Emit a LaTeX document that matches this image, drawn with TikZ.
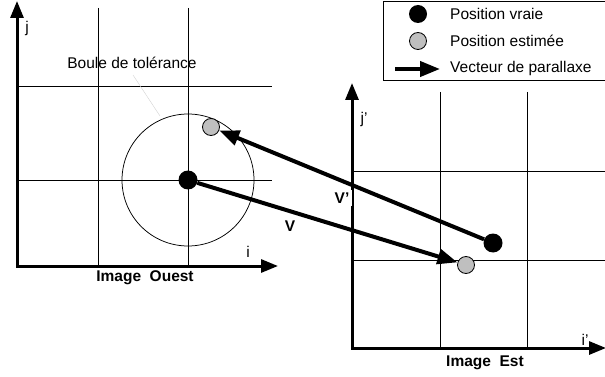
\documentclass[tikz,border=0pt]{standalone}
\usepackage{fontspec}
\setmainfont{Liberation Sans}
\usetikzlibrary{arrows.meta}

\begin{document}
\begin{tikzpicture}[x=1pt,y=-1pt]
\tikzstyle{vrai} = [shape = circle,fill = black,minimum size = 19pt,inner sep=0pt]
\tikzstyle{estime} = [shape = circle,draw = black,fill = gray!50,line width=0.8pt,minimum size = 17pt,inner sep=0pt]
\tikzstyle{axe} = [line width=3pt,{Triangle[length=17pt,width=13pt]}-{Triangle[length=17pt,width=13pt]}]
\tikzstyle{grille} = [line width=1pt]
\tikzstyle{vecteur} = [line width=4pt,-{Triangle[length=20pt,width=15pt]}]
\tikzstyle{texte} = [font=\fontsize{15.5}{18}\selectfont,inner sep=1pt]
\tikzstyle{titre} = [font=\fontsize{15.5}{18}\selectfont\bfseries,inner sep=1pt]

\useasboundingbox (0,0) rectangle (605,377);

% image ouest
\draw[grille] (98,8) -- (98,266) (188,8) -- (188,266);
\draw[grille] (17,87) -- (272,87) (17,180) -- (272,180);
\coordinate (jO) at (17,1);
\coordinate (oO) at (17,266);
\coordinate (iO) at (278,266);
\draw[axe] (jO) -- (oO) -- (iO);
\draw[line width=0.75pt] (188,180) circle (66);
\draw[gray!35,line width=0.4pt] (133,75) -- (160,116);
\node[texte] (boule) at (132,63) {Boule de tolérance};
\node[texte] (lj) at (27,28) {j};
\node[texte] (li) at (248,252) {i};
\node[titre] (ouest) at (145,278) {Image\ \ Ouest};

% image est
\draw[grille] (440,92) -- (440,348) (527,92) -- (527,348);
\draw[grille] (352,171) -- (605,171) (352,260) -- (605,260);
\coordinate (jE) at (352,83);
\coordinate (oE) at (352,348);
\coordinate (iE) at (606,348);
\draw[axe] (jE) -- (oE) -- (iE);
\node[texte] (lj2) at (364,119) {j'};
\node[texte] (li2) at (585,340) {i'};
\node[titre] (est) at (485,363) {Image\ \ Est};

% positions et vecteurs
\node[vrai] (vraiO) at (188,180) {};
\node[estime] (estO) at (211,127) {};
\node[vrai] (vraiE) at (493,243) {};
\node[estime] (estE) at (466,265) {};
\node[titre] (lv) at (290,226) {V};
\node[titre,fill=white,inner sep=3pt] (lv2) at (342,198) {V'};
\draw[vecteur] (vraiO) -- (estE);
\draw[vecteur] (vraiE) -- (estO);

% legende
\node[draw,line width=0.75pt,anchor=north west,minimum width=224pt,minimum height=79pt,inner sep=0pt] (legende) at (383,1) {};
\node[vrai,minimum size=18pt] (lvrai) at (418,14) {};
\node[estime] (lestime) at (418,41) {};
\coordinate (fdeb) at (395,69);
\coordinate (ffin) at (440,69);
\draw[vecteur] (fdeb) -- (ffin);
\node[texte,anchor=west] (tvrai) at (449,14) {Position vraie};
\node[texte,anchor=west] (testime) at (449,41) {Position estimée};
\node[texte,anchor=west] (tvect) at (449,68) {Vecteur de parallaxe};

\end{tikzpicture}
\end{document}
